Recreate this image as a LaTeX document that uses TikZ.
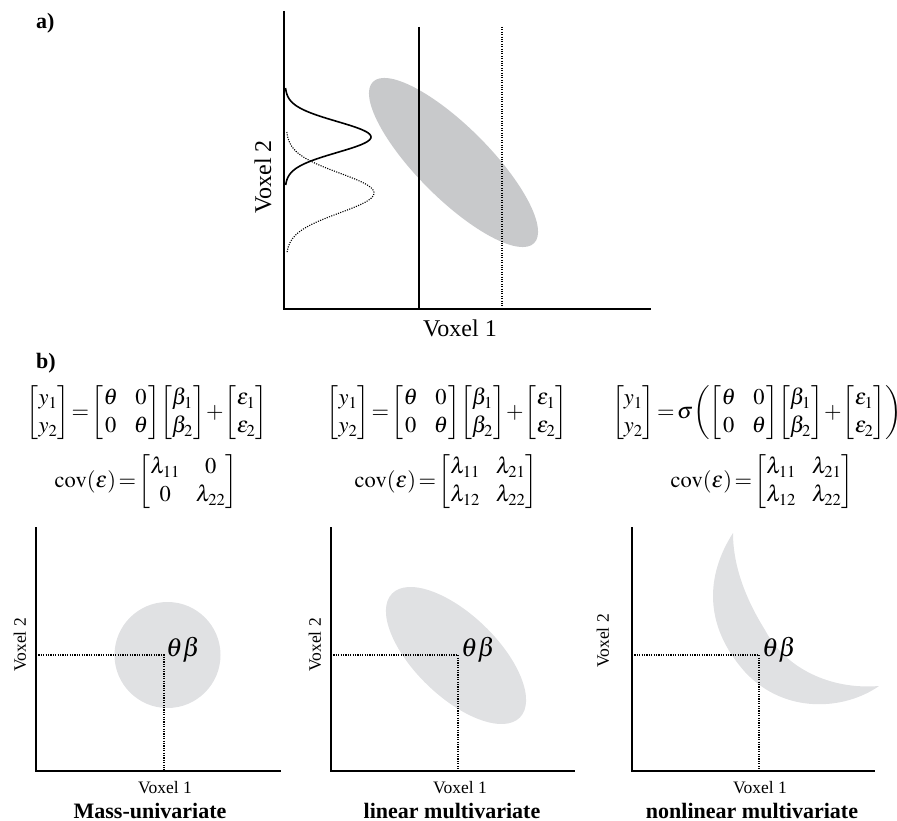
\documentclass[tikz,border=0pt]{standalone}
\usepackage{mathptmx}
\usepackage{amsmath}
\usepackage[no-math]{fontspec}
\setmainfont{Liberation Serif}
% bracketed matrix
\newcommand{\bmat}[1]{\left[\begin{matrix}#1\end{matrix}\right]}
% tight operator spacing and wide matrix columns for the model equations
\newcommand{\eqsetup}{\setlength{\arraycolsep}{8pt}\thickmuskip=2mu\relax\medmuskip=1mu\relax\thinmuskip=0mu\relax\nulldelimiterspace=0pt\relax}
\begin{document}
\begin{tikzpicture}[x=1pt,y=-1pt,
  axis/.style={line width=2.2pt},
  axisA/.style={line width=2.6pt},
  guide/.style={line width=1.1pt, dash pattern=on 1.1pt off 1.3pt},
  blobA/.style={fill={rgb,255:red,200;green,201;blue,203}, draw=none},
  blobB/.style={fill={rgb,255:red,224;green,225;blue,227}, draw=none},
  biglbl/.style={font=\fontsize{24}{27}\selectfont, inner sep=0pt},
  smalllbl/.style={font=\fontsize{17.5}{20}\selectfont, inner sep=0pt},
  title/.style={font=\fontsize{22}{25}\selectfont\bfseries, inner sep=0pt},
  eqn/.style={font=\fontsize{22.5}{28}\selectfont, inner sep=0pt},
  tb/.style={font=\fontsize{26}{28}\selectfont, inner sep=0pt, anchor=base west}]
\useasboundingbox (0,0) rectangle (897,821);

% ---------- part a ----------
\node[title, anchor=north west] (la) at (36,13) {a)};
\fill[blobA] (453.5,162.5) ellipse[x radius=114, y radius=36, rotate=-45];
\coordinate (aO) at (284,309);
\coordinate (aT) at (284,11);
\coordinate (aR) at (651,309);
\draw[axisA] (aT) -- (aO) -- (aR);
\coordinate (s1t) at (419,27);
\coordinate (s1b) at (419,309);
\draw[line width=1.3pt] (s1t) -- (s1b);
\coordinate (d1t) at (502,27);
\coordinate (d1b) at (502,309);
\draw[guide] (d1t) -- (d1b);
% marginal densities along voxel 2
\draw[line width=1.6pt] plot[domain=88:185, samples=90]
  ({285+86*exp(-((\x-137)*(\x-137))/(2*15.5*15.5))}, \x);
\draw[guide] plot[domain=132:253, samples=120]
  ({286+88*exp(-((\x-193)*(\x-193))/(2*20*20))}, \x);
\node[biglbl, rotate=90] (va2) at (263,177) {Voxel 2};
\node[biglbl] (va1) at (460,328) {Voxel 1};

% ---------- part b ----------
\node[title, anchor=north west] (lb) at (36,353) {b)};

% equations
\node[eqn] (e1) at (147,413) {\eqsetup$\bmat{y_1\\ y_2}=\bmat{\theta & 0\\ 0 & \theta}\!\bmat{\beta_1\\ \beta_2}+\bmat{\varepsilon_1\\ \varepsilon_2}$};
\node[eqn] (c1) at (146,482) {\eqsetup$\mathrm{cov}(\varepsilon)=\bmat{\lambda_{11} & 0\\ 0 & \lambda_{22}}$};

\node[eqn] (e2) at (447,413) {\eqsetup$\bmat{y_1\\ y_2}=\bmat{\theta & 0\\ 0 & \theta}\!\bmat{\beta_1\\ \beta_2}+\bmat{\varepsilon_1\\ \varepsilon_2}$};
\node[eqn] (c2) at (446,482) {\eqsetup$\mathrm{cov}(\varepsilon)=\bmat{\lambda_{11} & \lambda_{21}\\ \lambda_{12} & \lambda_{22}}$};

\node[eqn] (e3) at (757,413) {\eqsetup$\bmat{y_1\\ y_2}=\sigma\!\!\left(\!\bmat{\theta & 0\\ 0 & \theta}\!\bmat{\beta_1\\ \beta_2}+\bmat{\varepsilon_1\\ \varepsilon_2}\!\right)$};
\node[eqn] (c3) at (762,482) {\eqsetup$\mathrm{cov}(\varepsilon)=\bmat{\lambda_{11} & \lambda_{21}\\ \lambda_{12} & \lambda_{22}}$};

% panel 1: mass-univariate
\fill[blobB] (167.5,655) circle[radius=53];
\coordinate (p1O) at (36,771);
\coordinate (p1T) at (36,527);
\coordinate (p1R) at (281,771);
\coordinate (p1c) at (164,655);
\coordinate (p1y) at (36,655);
\coordinate (p1x) at (164,771);
\draw[guide] (p1y) -- (p1c) -- (p1x);
\draw[axis] (p1T) -- (p1O) -- (p1R);
\node[tb] (tb1) at (166,656) {$\theta\beta$};
\node[smalllbl, rotate=90] (v12) at (20,645) {Voxel 2};
\node[smalllbl] (v11) at (165,788) {Voxel 1};
\node[title, anchor=base] (t1) at (150,818) {Mass-univariate};

% panel 2: linear multivariate
\fill[blobB] (456,655.5) ellipse[x radius=89, y radius=41, rotate=-44];
\coordinate (p2O) at (331,771);
\coordinate (p2T) at (331,527);
\coordinate (p2R) at (575,771);
\coordinate (p2c) at (458,655);
\coordinate (p2y) at (331,655);
\coordinate (p2x) at (458,771);
\draw[guide] (p2y) -- (p2c) -- (p2x);
\draw[axis] (p2T) -- (p2O) -- (p2R);
\node[tb] (tb2) at (461,656) {$\theta\beta$};
\node[smalllbl, rotate=90] (v22) at (315,645) {Voxel 2};
\node[smalllbl] (v21) at (460,788) {Voxel 1};
\node[title, anchor=base] (t2) at (452,818) {linear multivariate};

% panel 3: nonlinear multivariate (crescent)
\fill[blobB] (733,533)
  .. controls (706,575) and (703,625) .. (745,672)
  .. controls (785,715) and (845,710) .. (879,686)
  .. controls (830,690) and (785,668) .. (765,630)
  .. controls (745,598) and (733,565) .. (733,533) -- cycle;
\coordinate (p3O) at (632,771);
\coordinate (p3T) at (632,527);
\coordinate (p3R) at (875,771);
\coordinate (p3c) at (759,655);
\coordinate (p3y) at (632,655);
\coordinate (p3x) at (759,771);
\draw[guide] (p3y) -- (p3c) -- (p3x);
\draw[axis] (p3T) -- (p3O) -- (p3R);
\node[tb] (tb3) at (762,656) {$\theta\beta$};
\node[smalllbl, rotate=90] (v32) at (603,641) {Voxel 2};
\node[smalllbl] (v31) at (760,788) {Voxel 1};
\node[title, anchor=base] (t3) at (752,818) {nonlinear multivariate};
\end{tikzpicture}
\end{document}
